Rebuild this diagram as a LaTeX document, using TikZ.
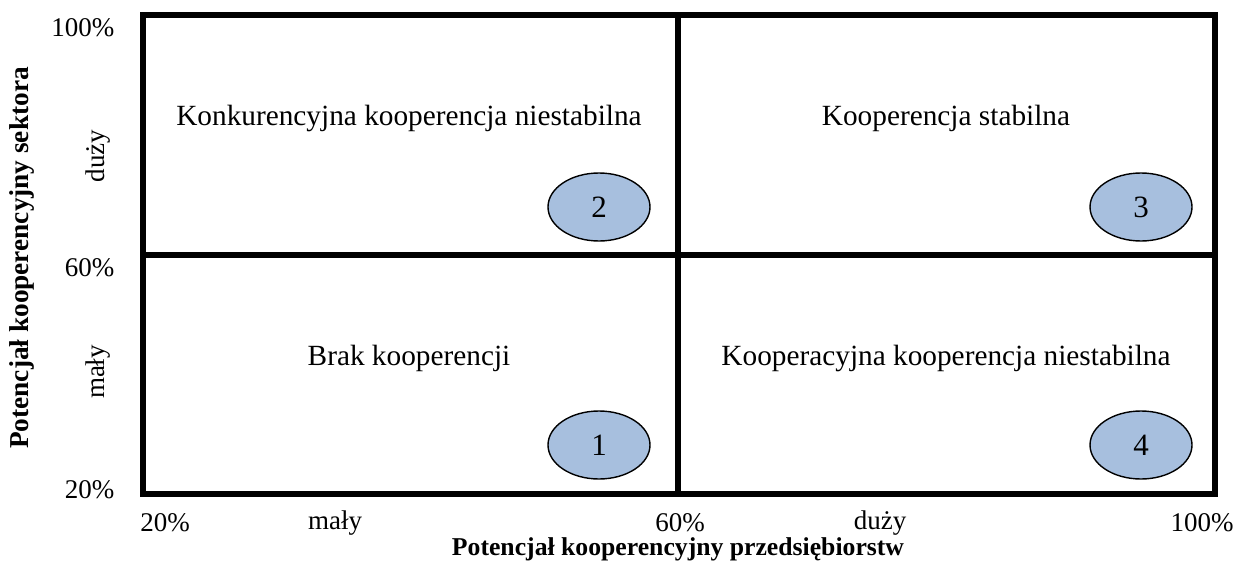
\documentclass[tikz,border=0pt]{standalone}
\usepackage{fontspec}
\setmainfont{Liberation Serif}
\usetikzlibrary{shapes.geometric}
\definecolor{ellblue}{RGB}{167,191,222}
\tikzset{
  frame/.style={line width=5.5pt},
  quad/.style={font=\fontsize{29.3}{33}\selectfont, anchor=center},
  num/.style={ellipse, draw=black, line width=1.4pt, fill=ellblue, minimum width=102pt, minimum height=68pt, inner sep=0pt, font=\fontsize{31}{35}\selectfont},
  lab/.style={font=\fontsize{27}{31}\selectfont},
  axis/.style={font=\bfseries\fontsize{25.7}{30}\selectfont}
}
\begin{document}
\begin{tikzpicture}[x=1pt,y=-1pt]
\useasboundingbox (0,0) rectangle (1242,567);
\coordinate (tl) at (143,15);
\coordinate (br) at (1215,494);
\coordinate (mt) at (678,15);
\coordinate (mb) at (678,494);
\coordinate (ml) at (143,255);
\coordinate (mr) at (1215,255);
\draw[frame] (tl) rectangle (br);
\draw[frame] (mt) -- (mb);
\draw[frame] (ml) -- (mr);
\node[quad] (q2) at (409,118) {Konkurencyjna kooperencja niestabilna};
\node[quad] (q3) at (946,118) {Kooperencja stabilna};
\node[quad] (q1) at (409,358) {Brak kooperencji};
\node[quad] (q4) at (946,358) {Kooperacyjna kooperencja niestabilna};
\node[num] (e2) at (599,207) {2};
\node[num] (e3) at (1141,207) {3};
\node[num] (e1) at (599,445) {1};
\node[num] (e4) at (1141,445) {4};
\node[lab, anchor=east] (y100) at (118,28) {100\%};
\node[lab, anchor=east] (y60) at (118,268) {60\%};
\node[lab, anchor=east] (y20) at (118,490) {20\%};
\node[lab, rotate=90] (yd) at (98,156) {duży};
\node[lab, rotate=90] (ym) at (98,372) {mały};
\node[axis, rotate=90, font=\bfseries\fontsize{27.3}{31}\selectfont] (yax) at (22,258) {Potencjał kooperencyjny sektora};
\node[lab] (x20) at (165,523) {20\%};
\node[lab] (xm) at (335,523) {mały};
\node[lab] (x60) at (680,523) {60\%};
\node[lab] (xd) at (880,523) {duży};
\node[lab] (x100) at (1202,523) {100\%};
\node[axis] (xax) at (678,549) {Potencjał kooperencyjny przedsiębiorstw};
\end{tikzpicture}
\end{document}
